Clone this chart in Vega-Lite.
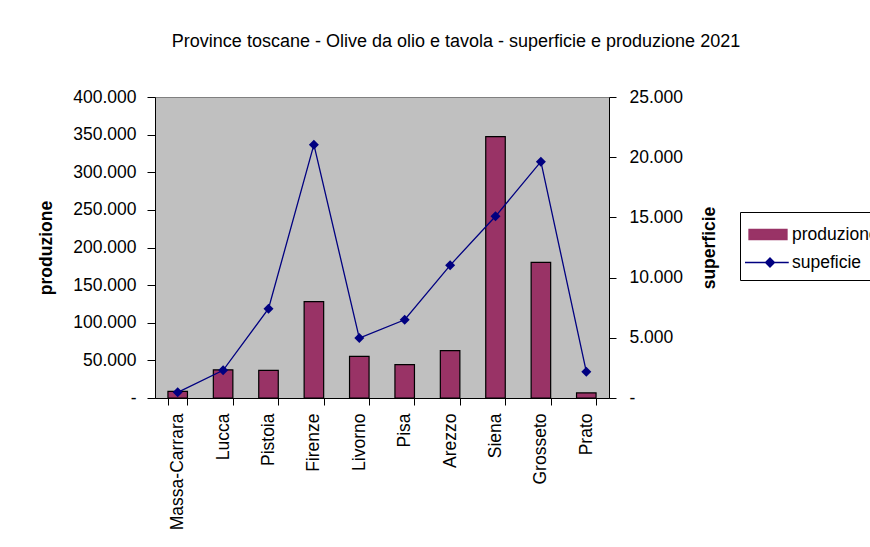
{
  "$schema": "https://vega.github.io/schema/vega-lite/v6.json",
  "autosize": {"type": "none"},
  "width": 454,
  "height": 301,
  "padding": {"left": 155, "top": 97, "right": 261, "bottom": 149},
  "background": "white",
  "title": {
    "text": "Province toscane - Olive da olio e tavola - superficie e produzione 2021",
    "font": "Liberation Sans",
    "fontSize": 18,
    "fontWeight": "normal",
    "color": "black",
    "anchor": "middle",
    "frame": "group",
    "dx": 74,
    "offset": 37
  },
  "config": {
    "font": "Liberation Sans",
    "view": {"fill": "#C0C0C0", "stroke": "#808080", "strokeWidth": 1},
    "locale": {"number": {"decimal": ",", "thousands": ".", "grouping": [3], "currency": ["", " €"]}},
    "axis": {
      "labelFont": "Liberation Sans",
      "titleFont": "Liberation Sans",
      "labelFontSize": 17.5,
      "titleFontSize": 17.5,
      "labelColor": "black",
      "titleColor": "black",
      "domainColor": "black",
      "tickColor": "black",
      "domainWidth": 1,
      "tickWidth": 1,
      "grid": false
    }
  },
  "data": {
    "values": [
      {"provincia": "Massa-Carrara", "produzione": 8900, "superficie": 470},
      {"provincia": "Lucca", "produzione": 37500, "superficie": 2300},
      {"provincia": "Pistoia", "produzione": 36800, "superficie": 7420},
      {"provincia": "Firenze", "produzione": 128000, "superficie": 21040},
      {"provincia": "Livorno", "produzione": 55400, "superficie": 4980},
      {"provincia": "Pisa", "produzione": 44300, "superficie": 6500},
      {"provincia": "Arezzo", "produzione": 62900, "superficie": 11020},
      {"provincia": "Siena", "produzione": 347300, "superficie": 15090},
      {"provincia": "Grosseto", "produzione": 180300, "superficie": 19630},
      {"provincia": "Prato", "produzione": 6700, "superficie": 2190}
    ]
  },
  "encoding": {
    "x": {
      "field": "provincia",
      "type": "nominal",
      "sort": null,
      "scale": {"paddingInner": 0.57, "paddingOuter": 0.285},
      "axis": {
        "title": null,
        "labelAngle": -90,
        "labelAlign": "right",
        "labelBaseline": "middle",
        "tickBand": "extent",
        "tickSize": 7,
        "labelPadding": 8
      }
    }
  },
  "layer": [
    {
      "mark": {"type": "bar", "stroke": "black", "strokeWidth": 1.2},
      "encoding": {
        "y": {
          "field": "produzione",
          "type": "quantitative",
          "scale": {"domain": [0, 400000], "nice": false},
          "axis": {
            "title": "produzione",
            "titleFontWeight": "bold",
            "values": [0, 50000, 100000, 150000, 200000, 250000, 300000, 350000, 400000],
            "format": ",.0f",
            "labelExpr": "datum.value === 0 ? '-' : datum.label",
            "tickSize": 8,
            "labelPadding": 11,
            "titlePadding": 17
          }
        },
        "color": {
          "datum": "produzione",
          "type": "nominal",
          "scale": {"domain": ["produzione", "supeficie"], "range": ["#993366", "#000080"]},
          "legend": {
            "title": null,
            "orient": "none",
            "legendX": 585,
            "legendY": 115,
            "strokeColor": "black",
            "fillColor": "white",
            "padding": 9,
            "symbolSize": 625,
            "rowPadding": 6,
            "labelOffset": 16,
            "labelFont": "Liberation Sans",
            "labelFontSize": 17.5,
            "labelColor": "black",
            "symbolType": {"expr": "datum.value === 'produzione' ? 'M-1.08,-0.4H1.96V0.4H-1.08Z' : 'M-1.4,0H2.1M0.6,-0.36L0.96,0L0.6,0.36L0.24,0Z'"},
            "symbolFillColor": {"expr": "datum.value === 'produzione' ? '#993366' : '#000080'"},
            "symbolStrokeColor": {"expr": "datum.value === 'produzione' ? 'black' : '#000080'"},
            "symbolStrokeWidth": 1.3,
            "symbolOpacity": 1,
            "encode": {
              "symbols": {
                "update": {
                  "shape": {"signal": "datum.value === 'produzione' ? 'M-1.08,-0.4H1.96V0.4H-1.08Z' : 'M-1.4,0H2.1M0.6,-0.36L0.96,0L0.6,0.36L0.24,0Z'"},
                  "fill": {"signal": "datum.value === 'produzione' ? '#993366' : '#000080'"},
                  "stroke": {"signal": "datum.value === 'produzione' ? 'black' : '#000080'"},
                  "strokeWidth": {"value": 1.3},
                  "fillOpacity": {"value": 1},
                  "opacity": {"value": 1}
                }
              }
            }
          }
        }
      }
    },
    {
      "mark": {
        "type": "line",
        "strokeWidth": 1.3,
        "point": {"shape": "diamond", "size": 100, "filled": true}
      },
      "encoding": {
        "y": {
          "field": "superficie",
          "type": "quantitative",
          "scale": {"domain": [0, 25000], "nice": false},
          "axis": {
            "orient": "right",
            "title": "superficie",
            "titleFontWeight": "bold",
            "titleAngle": 270,
            "values": [0, 5000, 10000, 15000, 20000, 25000],
            "format": ",.0f",
            "labelExpr": "datum.value === 0 ? '-' : datum.label",
            "tickSize": 7,
            "labelPadding": 13,
            "titlePadding": 36
          }
        },
        "color": {"datum": "supeficie", "type": "nominal"}
      }
    }
  ],
  "resolve": {"scale": {"y": "independent"}}
}
